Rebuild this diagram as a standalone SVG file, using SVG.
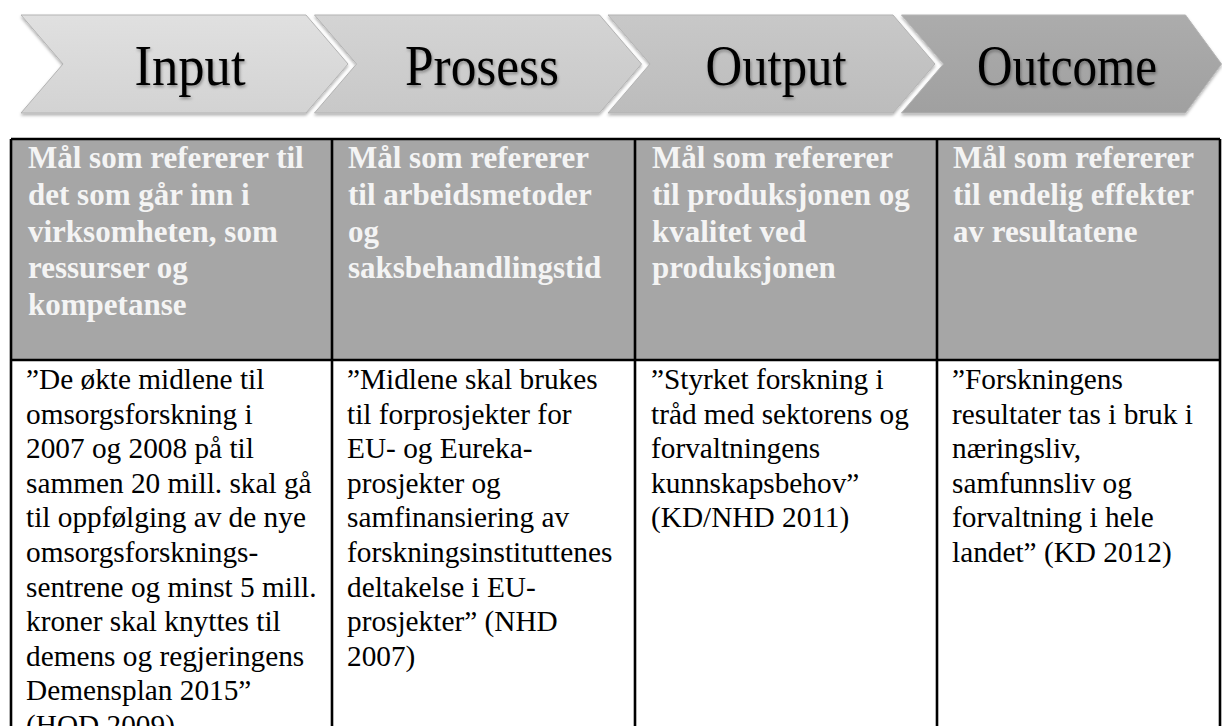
<svg xmlns="http://www.w3.org/2000/svg" width="1222" height="726" viewBox="0 0 1222 726">
<style>
.chev-text{font-family:"Liberation Serif","Times New Roman",serif;font-size:58px;fill:#000;text-anchor:middle}
.hd{font-family:"Liberation Serif","Times New Roman",serif;font-size:31px;font-weight:bold;fill:#f4f4f4}
.bd{font-family:"Liberation Serif","Times New Roman",serif;font-size:29.3px;fill:#000}
.chev{stroke:#b3b3b3;stroke-width:1}
.grid{stroke:#000;stroke-width:2.6;fill:none}
</style>
<defs>
<filter id="sh" x="-5%" y="-10%" width="112%" height="130%">
<feDropShadow dx="0" dy="2" stdDeviation="1.6" flood-color="#000" flood-opacity="0.3"/>
</filter>
<filter id="tsh" x="-10%" y="-20%" width="120%" height="150%">
<feDropShadow dx="1" dy="2" stdDeviation="1.5" flood-color="#000" flood-opacity="0.35"/>
</filter>
<linearGradient id="g1" x1="0" y1="0" x2="0" y2="1"><stop offset="0" stop-color="#e0e0e0"/><stop offset="1" stop-color="#d3d3d3"/></linearGradient>
<linearGradient id="g2" x1="0" y1="0" x2="0" y2="1"><stop offset="0" stop-color="#d4d4d4"/><stop offset="1" stop-color="#c8c8c8"/></linearGradient>
<linearGradient id="g3" x1="0" y1="0" x2="0" y2="1"><stop offset="0" stop-color="#c8c8c8"/><stop offset="1" stop-color="#bcbcbc"/></linearGradient>
<linearGradient id="g4" x1="0" y1="0" x2="0" y2="1"><stop offset="0" stop-color="#acacac"/><stop offset="1" stop-color="#a0a0a0"/></linearGradient>
</defs>
<rect width="1222" height="726" fill="#fff"/>

<g id="chev-input">
<polygon class="chev" filter="url(#sh)" fill="url(#g1)" points="21,15 306,15 348,64 306,113 21,113 63,64"/>
<text class="chev-text" filter="url(#tsh)" x="190" y="85" textLength="111" lengthAdjust="spacingAndGlyphs">Input</text>
</g>
<g id="chev-prosess">
<polygon class="chev" filter="url(#sh)" fill="url(#g2)" points="314.5,15 599.5,15 641.5,64 599.5,113 314.5,113 356.5,64"/>
<text class="chev-text" filter="url(#tsh)" x="482" y="85" textLength="154" lengthAdjust="spacingAndGlyphs">Prosess</text>
</g>
<g id="chev-output">
<polygon class="chev" filter="url(#sh)" fill="url(#g3)" points="608,15 893,15 935,64 893,113 608,113 650,64"/>
<text class="chev-text" filter="url(#tsh)" x="776" y="85" textLength="141" lengthAdjust="spacingAndGlyphs">Output</text>
</g>
<g id="chev-outcome">
<polygon class="chev" filter="url(#sh)" fill="url(#g4)" points="901.5,15 1185.5,15 1221.5,64 1185.5,113 901.5,113 943.5,64"/>
<text class="chev-text" filter="url(#tsh)" x="1067" y="85" textLength="180" lengthAdjust="spacingAndGlyphs">Outcome</text>
</g>

<g id="table-header-bg">
<rect x="11" y="139" width="1209" height="221" fill="#a6a6a6"/>
</g>

<g id="hdr-input">
<text class="hd"><tspan x="28" y="168">Mål som refererer til</tspan><tspan x="28" y="204.75">det som går inn i</tspan><tspan x="28" y="241.5">virksomheten, som</tspan><tspan x="28" y="278.25">ressurser og</tspan><tspan x="28" y="315">kompetanse</tspan></text>
</g>
<g id="hdr-prosess">
<text class="hd"><tspan x="348" y="168">Mål som refererer</tspan><tspan x="348" y="204.75">til arbeidsmetoder</tspan><tspan x="348" y="241.5">og</tspan><tspan x="348" y="278.25">saksbehandlingstid</tspan></text>
</g>
<g id="hdr-output">
<text class="hd"><tspan x="652" y="168">Mål som refererer</tspan><tspan x="652" y="204.75">til produksjonen og</tspan><tspan x="652" y="241.5">kvalitet ved</tspan><tspan x="652" y="278.25">produksjonen</tspan></text>
</g>
<g id="hdr-outcome">
<text class="hd"><tspan x="953" y="168">Mål som refererer</tspan><tspan x="953" y="204.75">til endelig effekter</tspan><tspan x="953" y="241.5">av resultatene</tspan></text>
</g>

<g id="body-input">
<text class="bd"><tspan x="26" y="389">”De økte midlene til</tspan><tspan x="26" y="423.6">omsorgsforskning i</tspan><tspan x="26" y="458.2">2007 og 2008 på til</tspan><tspan x="26" y="492.8">sammen 20 mill. skal gå</tspan><tspan x="26" y="527.4">til oppfølging av de nye</tspan><tspan x="26" y="562">omsorgsforsknings-</tspan><tspan x="26" y="596.6">sentrene og minst 5 mill.</tspan><tspan x="26" y="631.2">kroner skal knyttes til</tspan><tspan x="26" y="665.8">demens og regjeringens</tspan><tspan x="26" y="700.4">Demensplan 2015”</tspan><tspan x="26" y="735">(HOD 2009)</tspan></text>
</g>
<g id="body-prosess">
<text class="bd"><tspan x="347" y="389">”Midlene skal brukes</tspan><tspan x="347" y="423.6">til forprosjekter for</tspan><tspan x="347" y="458.2">EU- og Eureka-</tspan><tspan x="347" y="492.8">prosjekter og</tspan><tspan x="347" y="527.4">samfinansiering av</tspan><tspan x="347" y="562">forskningsinstituttenes</tspan><tspan x="347" y="596.6">deltakelse i EU-</tspan><tspan x="347" y="631.2">prosjekter” (NHD</tspan><tspan x="347" y="665.8">2007)</tspan></text>
</g>
<g id="body-output">
<text class="bd"><tspan x="651" y="389">”Styrket forskning i</tspan><tspan x="651" y="423.6">tråd med sektorens og</tspan><tspan x="651" y="458.2">forvaltningens</tspan><tspan x="651" y="492.8">kunnskapsbehov”</tspan><tspan x="651" y="527.4">(KD/NHD 2011)</tspan></text>
</g>
<g id="body-outcome">
<text class="bd"><tspan x="952" y="389">”Forskningens</tspan><tspan x="952" y="423.6">resultater tas i bruk i</tspan><tspan x="952" y="458.2">næringsliv,</tspan><tspan x="952" y="492.8">samfunnsliv og</tspan><tspan x="952" y="527.4">forvaltning i hele</tspan><tspan x="952" y="562">landet” (KD 2012)</tspan></text>
</g>

<g id="connectors">
<path class="grid" d="M11,139 H1220 M11,360 H1220 M11,139 V740 M332,139 V740 M635,139 V740 M937,139 V740 M1220,139 V740"/>
</g>
</svg>
